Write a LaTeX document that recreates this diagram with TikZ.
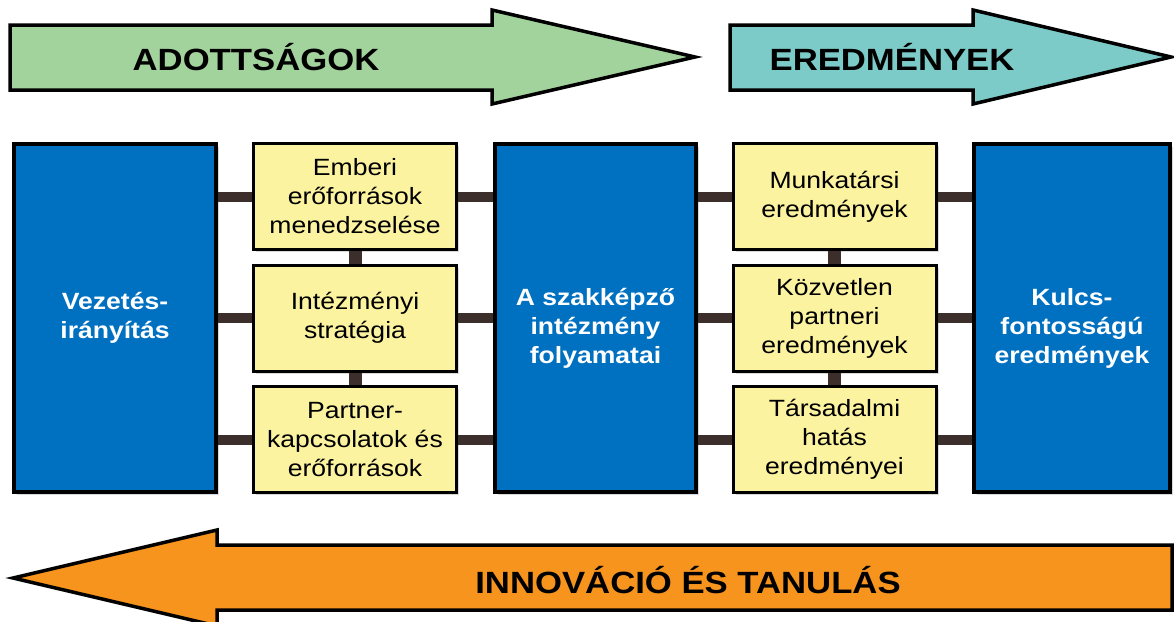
\documentclass[tikz,border=0pt]{standalone}
\usepackage{fontspec}
\setmainfont{Liberation Sans}[FakeStretch=1.13]
\usetikzlibrary{shadows}
\definecolor{givengreen}{RGB}{163,211,156}
\definecolor{resultteal}{RGB}{124,203,200}
\definecolor{procblue}{RGB}{0,112,192}
\definecolor{paleyellow}{RGB}{252,243,160}
\definecolor{learnorange}{RGB}{247,148,30}
\definecolor{linkbrown}{RGB}{60,47,43}
\newcommand{\lowstrut}{\rule{0pt}{37pt}}
\tikzset{
	bigbox/.style={draw=black,line width=3.5pt,fill=procblue,text=white,
		font=\fontsize{23.5}{29}\selectfont\bfseries,align=center,
		minimum width=202pt,minimum height=348pt,inner sep=2pt,
		drop shadow={shadow xshift=2.5pt,shadow yshift=-2.5pt,opacity=0.3}},
	smallbox/.style={draw=black,line width=3pt,fill=paleyellow,
		font=\fontsize{23.5}{29}\selectfont,align=center,
		minimum width=203pt,minimum height=106pt,inner sep=2pt,
		drop shadow={shadow xshift=2.5pt,shadow yshift=-2.5pt,opacity=0.3}},
	link/.style={draw=linkbrown,line width=10pt},
	bigarrow/.style={draw=black,line width=3.5pt,line join=miter},
	arrowtext/.style={font=\fontsize{30.7}{36}\selectfont\bfseries}
}
\begin{document}
\begin{tikzpicture}[x=1pt,y=-1pt]
\useasboundingbox (0,0) rectangle (1174,621);
\clip (0,0) rectangle (1174,621);

\draw[bigarrow,fill=givengreen]
	(10,25)--(492,25)--(492,10)--(695,57)--(492,104)--(492,90)--(10,90)--cycle;
\draw[bigarrow,fill=resultteal]
	(730,25)--(973,25)--(973,10)--(1171,57)--(973,104)--(973,90)--(730,90)--cycle;
\draw[bigarrow,fill=learnorange]
	(1172,545)--(217,545)--(217,530)--(13,578)--(217,626)--(217,610)--(1172,610)--cycle;

\node[arrowtext] (given) at (256,57) {ADOTTSÁGOK};
\node[arrowtext] (results) at (892,57) {EREDMÉNYEK};
\node[arrowtext] (learning) at (688,580) {INNOVÁCIÓ ÉS TANULÁS};

\node[bigbox] (lead) at (115,318) {Vezetés-\\irányítás};
\node[smallbox] (hr) at (355,196.5) {Emberi\\erőforrások\\menedzselése};
\node[smallbox] (strat) at (355,318) {Intézményi\\stratégia};
\node[smallbox] (partner) at (355,439.5) {Partner-\\kapcsolatok és\\erőforrások};
\node[bigbox,minimum width=201pt] (proc) at (595.5,318) {\lowstrut A szakképző\\intézmény\\folyamatai};
\node[smallbox] (staff) at (834.5,196.5) {Munkatársi\\eredmények};
\node[smallbox] (client) at (834.5,318) {Közvetlen\\partneri\\eredmények};
\node[smallbox] (society) at (834.5,439.5) {Társadalmi\\hatás\\eredményei};
\node[bigbox,minimum width=196pt] (key) at (1072,318) {\lowstrut Kulcs-\\fontosságú\\eredmények};

\foreach \s in {hr,strat,partner}{
	\draw[link] (lead.east |- \s.west)--(\s.west);
	\draw[link] (\s.east)--(proc.west |- \s.east);
}
\foreach \s in {staff,client,society}{
	\draw[link] (proc.east |- \s.west)--(\s.west);
	\draw[link] (\s.east)--(key.west |- \s.east);
}
\draw[link,line width=13pt] (hr)--(strat);
\draw[link,line width=13pt] (strat)--(partner);
\draw[link,line width=13pt] (staff)--(client);
\draw[link,line width=13pt] (client)--(society);

\end{tikzpicture}
\end{document}
